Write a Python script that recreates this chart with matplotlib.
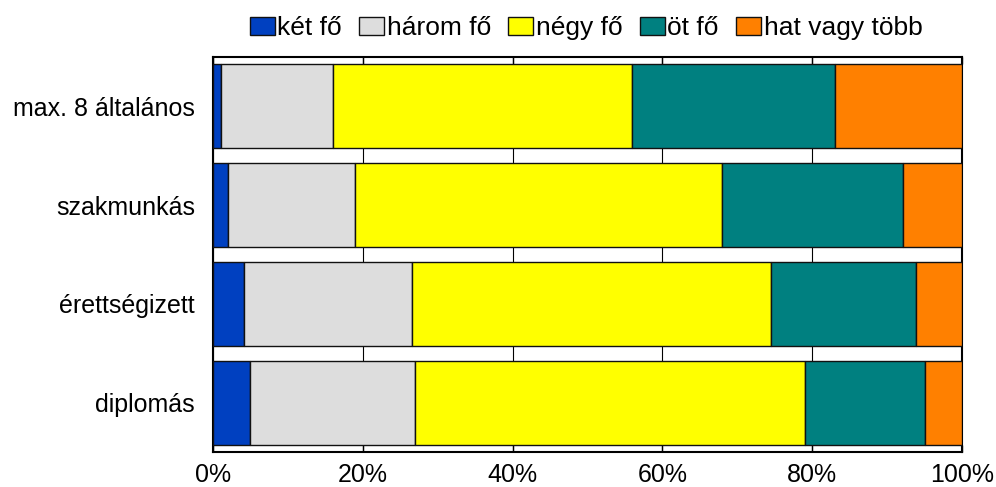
import matplotlib
matplotlib.use("Agg")
import matplotlib.pyplot as plt
from matplotlib.ticker import FuncFormatter, MultipleLocator

plt.rcParams['font.family'] = ['Liberation Sans', 'DejaVu Sans']

categories = ["max. 8 általános", "szakmunkás", "érettségizett", "diplomás"]
series_names = ["két fő", "három fő", "négy fő", "öt fő", "hat vagy több"]
ket_fo = [1.0, 2.0, 4.1, 5.0]
harom_fo = [15.0, 17.0, 22.5, 22.0]
negy_fo = [39.9, 49.0, 47.9, 52.0]
ot_fo = [27.1, 24.1, 19.4, 16.1]
hat_vagy_tobb = [17.0, 7.9, 6.1, 4.9]
values = [ket_fo, harom_fo, negy_fo, ot_fo, hat_vagy_tobb]
colors = ["#0040C0", "#DDDDDD", "#FFFF00", "#008080", "#FF8000"]

fig = plt.figure(figsize=(9.96, 4.87), dpi=100)
ax = fig.add_axes([0.2139, 0.0719, 0.7520, 0.8111])

y = list(range(len(categories)))
left = [0.0] * len(categories)
for name, vals, col in zip(series_names, values, colors):
    ax.barh(y, vals, left=left, height=0.85, color=col, edgecolor="#111111",
            linewidth=1.0, label=name, zorder=3)
    left = [l + v for l, v in zip(left, vals)]

ax.set_xlim(0, 100)
ax.set_ylim(3.5, -0.5)
ax.set_yticks(y)
ax.set_yticklabels(categories)
ax.xaxis.set_major_locator(MultipleLocator(20))
ax.xaxis.set_major_formatter(FuncFormatter(lambda v, p: f"{int(round(v))}%"))
ax.tick_params(axis="x", direction="in", length=5, width=1, top=True, labelsize=18, pad=8, colors="black")
ax.tick_params(axis="y", length=0, labelsize=18, pad=13)
ax.grid(axis="x", color="black", linewidth=0.8, zorder=0)
ax.set_axisbelow(True)
for s in ax.spines.values():
    s.set_linewidth(1.5)
    s.set_color("black")

ax.legend(loc="center", bbox_to_anchor=(0.498, 1.073), ncol=5, frameon=False,
          fontsize=19, handlelength=0.95, handleheight=0.65, handletextpad=0.1,
          columnspacing=0.65, borderaxespad=0, borderpad=0)

fig.savefig("out.png", dpi=100)
